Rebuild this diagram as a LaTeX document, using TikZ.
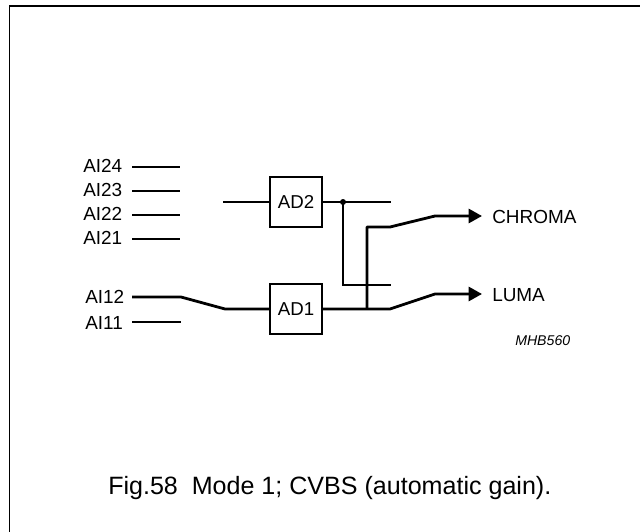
\documentclass[tikz,border=0pt]{standalone}
\usepackage{fontspec}
\setmainfont{Liberation Sans}
\usetikzlibrary{arrows.meta}
\begin{document}
\begin{tikzpicture}[x=0.75pt, y=-0.75pt, every node/.style={inner sep=0pt},
	block/.style={draw, line width=1.6pt, minimum width=39pt, minimum height=38pt, font=\fontsize{14}{16}\selectfont},
	pin/.style={anchor=west, font=\fontsize{14.2}{16}\selectfont},
	wire/.style={line width=0.8pt},
	bus/.style={line width=2.1pt, line join=round},
	output/.style={bus, -{Triangle[length=10pt, width=10.5pt]}}]
	\useasboundingbox (0, 0) rectangle (640, 532);
	\draw[line width=1.2pt] (9.5, 532) -- (9.5, 6) -- (640, 6);
	\node[block] (ad2) at (296, 202) {AD2};
	\node[block] (ad1) at (296, 309) {AD1};
	\node[pin] (ai24) at (83, 166) {AI24};
	\node[pin] (ai23) at (83, 190) {AI23};
	\node[pin] (ai22) at (83, 214) {AI22};
	\node[pin] (ai21) at (83, 238) {AI21};
	\node[pin] (ai12) at (85, 297) {AI12};
	\node[pin] (ai11) at (85, 323) {AI11};
	\node[pin] (chroma) at (492, 217) {CHROMA};
	\node[pin] (luma) at (492, 295) {LUMA};
	\node[pin, font=\fontsize{10.6}{12}\selectfont\itshape] (code) at (515, 341) {MHB560};
	\node[anchor=base west, font=\fontsize{18.8}{22}\selectfont] (caption) at (108, 494) {Fig.58\ \ Mode 1; CVBS (automatic gain).};
	% input stubs
	\coordinate (s24) at (132, 167); \coordinate (e24) at (180, 167);
	\coordinate (s23) at (132, 191); \coordinate (e23) at (180, 191);
	\coordinate (s22) at (132, 215); \coordinate (e22) at (180, 215);
	\coordinate (s21) at (132, 239); \coordinate (e21) at (180, 239);
	\coordinate (s11) at (132, 322); \coordinate (e11) at (181, 322);
	\draw[wire] (s24) -- (e24);
	\draw[wire] (s23) -- (e23);
	\draw[wire] (s22) -- (e22);
	\draw[wire] (s21) -- (e21);
	\draw[wire] (s11) -- (e11);
	% AD2 wires
	\coordinate (in2) at (223, 202);
	\coordinate (out2) at (391, 202);
	\coordinate (tap) at (343, 202);
	\coordinate (low) at (343, 285);
	\coordinate (lowend) at (391, 285);
	\draw[wire] (in2) -- (ad2);
	\draw[wire] (ad2) -- (out2);
	\draw[wire] (tap) -- (low) -- (lowend);
	\fill (tap) circle (3);
	% thick path
	\coordinate (s12) at (132, 297);
	\coordinate (b1) at (181, 297);
	\coordinate (b2) at (225, 309);
	\draw[bus] (s12) -- (b1) -- (b2) -- (ad1);
	\coordinate (split) at (367, 309);
	\coordinate (b3) at (390, 309);
	\coordinate (b4) at (435, 294);
	\coordinate (tipl) at (482, 294);
	\coordinate (c1) at (367, 227);
	\coordinate (c2) at (390, 227);
	\coordinate (c3) at (435, 216);
	\coordinate (tipc) at (482, 216);
	\draw[output] (ad1) -- (b3) -- (b4) -- (tipl);
	\draw[output] (split) -- (c1) -- (c2) -- (c3) -- (tipc);
\end{tikzpicture}
\end{document}
